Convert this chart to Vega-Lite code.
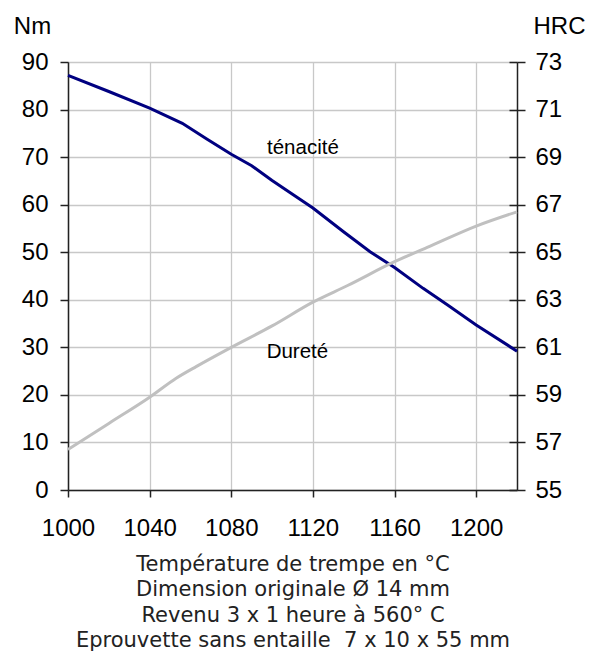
{
  "$schema": "https://vega.github.io/schema/vega-lite/v6.json",
  "width": 449,
  "height": 428,
  "autosize": {"type": "none"},
  "padding": {"left": 68, "top": 62, "right": 72, "bottom": 167},
  "config": {
    "view": {"stroke": "#808080", "strokeWidth": 1},
    "axis": {
      "labelFont": "Liberation Sans",
      "labelFontSize": 24,
      "labelColor": "#000000",
      "titleFont": "Liberation Sans",
      "titleFontSize": 24,
      "titleFontWeight": "normal",
      "titleColor": "#000000",
      "domainColor": "#222222",
      "domainWidth": 1.5,
      "tickColor": "#222222",
      "tickWidth": 1.5,
      "gridColor": "#c8c8c8",
      "gridWidth": 1.3
    }
  },
  "datasets": {
    "ten": [
      {"t": 1000, "nm": 87.2}, {"t": 1020, "nm": 83.8}, {"t": 1040, "nm": 80.3},
      {"t": 1056, "nm": 77.1}, {"t": 1068, "nm": 73.8}, {"t": 1080, "nm": 70.6},
      {"t": 1090, "nm": 68.2}, {"t": 1100, "nm": 65.1}, {"t": 1110, "nm": 62.2},
      {"t": 1120, "nm": 59.3}, {"t": 1135, "nm": 54.3}, {"t": 1148, "nm": 50.1},
      {"t": 1160, "nm": 46.8}, {"t": 1174, "nm": 42.4}, {"t": 1186, "nm": 38.9},
      {"t": 1200, "nm": 34.7}, {"t": 1220, "nm": 29.2}
    ],
    "dur": [
      {"t": 1000, "hrc": 56.7}, {"t": 1020, "hrc": 57.8}, {"t": 1040, "hrc": 58.9},
      {"t": 1053, "hrc": 59.7}, {"t": 1063, "hrc": 60.2}, {"t": 1080, "hrc": 61.0},
      {"t": 1100, "hrc": 61.9}, {"t": 1120, "hrc": 62.9}, {"t": 1137, "hrc": 63.6},
      {"t": 1160, "hrc": 64.6}, {"t": 1176, "hrc": 65.2}, {"t": 1200, "hrc": 66.1},
      {"t": 1220, "hrc": 66.7}
    ],
    "lab": [
      {"t": 1115.1, "nm": 70.6, "txt": "ténacité"},
      {"t": 1112.4, "nm": 27.8, "txt": "Dureté"}
    ]
  },
  "layer": [
    {
      "data": {"name": "ten"},
      "mark": {"type": "line", "color": "#000080", "strokeWidth": 3},
      "encoding": {
        "x": {
          "field": "t", "type": "quantitative",
          "scale": {"domain": [1000, 1220], "nice": false, "zero": false},
          "axis": {
            "values": [1000, 1040, 1080, 1120, 1160, 1200],
            "format": "d",
            "tickSize": 7,
            "labelPadding": 19,
            "labelFlush": false,
            "labelOverlap": false,
            "title": ["Température de trempe en °C", "Dimension originale Ø 14 mm", "Revenu 3 x 1 heure à 560° C", "Eprouvette sans entaille\u00a0 7 x 10 x 55 mm"],
            "titleFont": "DejaVu Sans",
            "titleFontSize": 21,
            "titleLineHeight": 25.5,
            "titleColor": "#222222",
            "titleBaseline": "alphabetic",
            "titleY": 80
          }
        },
        "y": {
          "field": "nm", "type": "quantitative",
          "scale": {"domain": [0, 90], "nice": false},
          "axis": {
            "values": [0, 10, 20, 30, 40, 50, 60, 70, 80, 90],
            "tickSize": 8,
            "labelPadding": 12,
            "labelOverlap": false,
            "title": "Nm",
            "titleAngle": 0,
            "titleAlign": "center",
            "titleBaseline": "alphabetic",
            "titleX": -36,
            "titleY": -29
          }
        }
      }
    },
    {
      "data": {"name": "lab"},
      "mark": {"type": "text", "font": "Liberation Sans", "fontSize": 20.5, "color": "#000000", "align": "center", "baseline": "alphabetic"},
      "encoding": {
        "x": {"field": "t", "type": "quantitative"},
        "y": {"field": "nm", "type": "quantitative", "scale": {"domain": [0, 90], "nice": false}, "axis": null},
        "text": {"field": "txt"}
      }
    },
    {
      "data": {"name": "dur"},
      "mark": {"type": "line", "color": "#c0c0c0", "strokeWidth": 3, "interpolate": "monotone"},
      "encoding": {
        "x": {"field": "t", "type": "quantitative"},
        "y": {
          "field": "hrc", "type": "quantitative",
          "scale": {"domain": [55, 73], "nice": false, "zero": false},
          "axis": {
            "orient": "right",
            "values": [55, 57, 59, 61, 63, 65, 67, 69, 71, 73],
            "grid": false,
            "tickSize": 8,
            "labelPadding": 10,
            "labelOverlap": false,
            "title": "HRC",
            "titleAngle": 0,
            "titleAlign": "center",
            "titleBaseline": "alphabetic",
            "titleX": 42,
            "titleY": -29
          }
        }
      }
    },
    {
      "data": {"name": "dur"},
      "mark": {"type": "line", "strokeOpacity": 0},
      "encoding": {
        "x": {"field": "t", "type": "quantitative"},
        "y": {
          "field": "hrc", "type": "quantitative",
          "scale": {"domain": [55, 73], "nice": false, "zero": false},
          "axis": {
            "orient": "right",
            "values": [55, 57, 59, 61, 63, 65, 67, 69, 71, 73],
            "grid": false,
            "tickSize": -8,
            "labels": false,
            "domain": false,
            "title": null
          }
        }
      }
    }
  ],
  "resolve": {"scale": {"y": "independent"}}
}
